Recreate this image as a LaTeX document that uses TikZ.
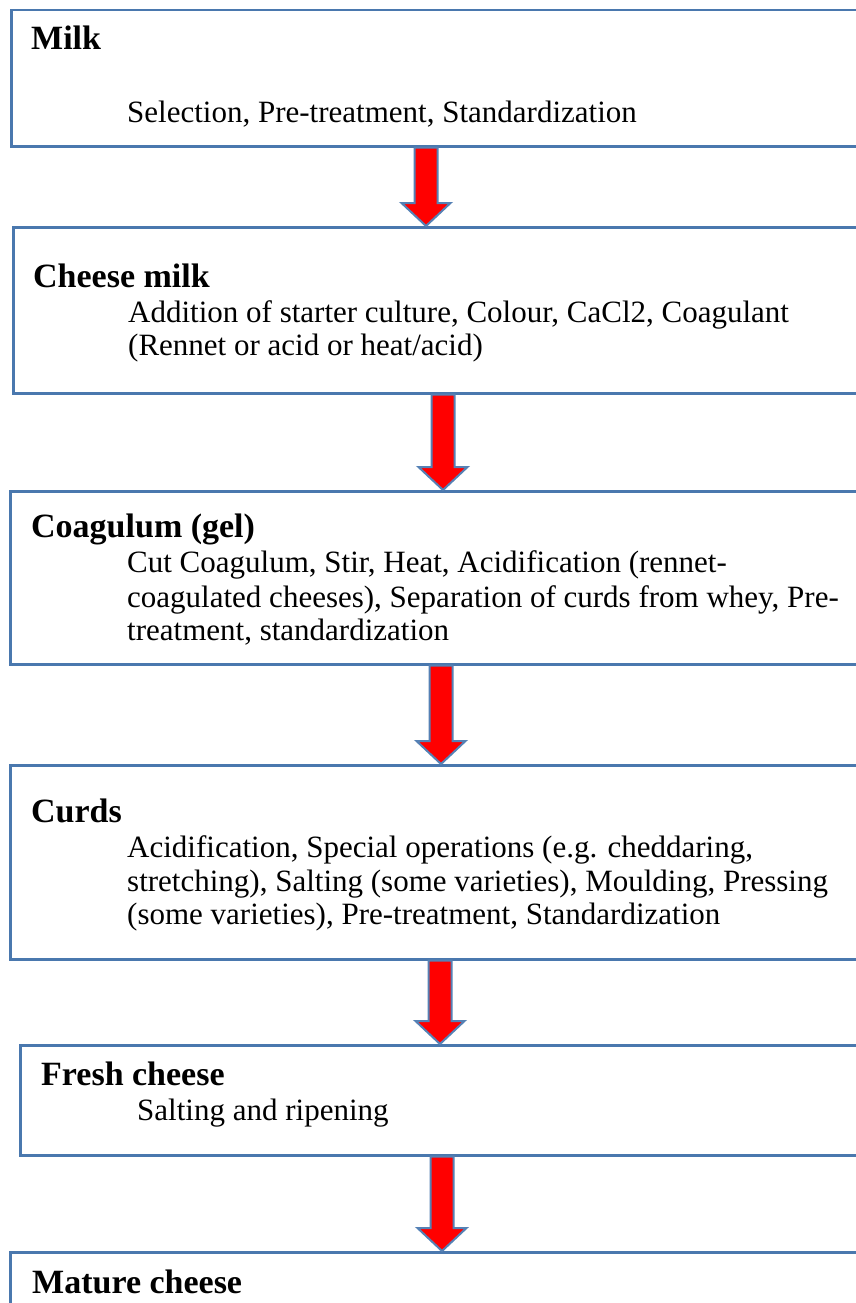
\documentclass[tikz,border=0pt]{standalone}
\usepackage{fontspec}
\setmainfont{Liberation Serif}
\usetikzlibrary{calc}
\definecolor{boxblue}{HTML}{4A78AE}
\definecolor{arrblue}{HTML}{5581B5}
\definecolor{arrred}{HTML}{FF0000}
\tikzset{
  stagebox/.style={draw=boxblue, line width=2.5pt, rectangle, anchor=north west, inner sep=0pt, fill=white},
  titletext/.style={anchor=base west, inner sep=0pt, font=\fontsize{34}{38}\selectfont\bfseries},
  bodytext/.style={anchor=base west, inner sep=0pt, font=\fontsize{31}{34}\selectfont},
  blockarrow/.style={draw=arrblue, fill=arrred, line width=2pt, line join=miter,
    to path={let \p1=(\tikztostart), \p2=(\tikztotarget) in
      (#1pt-11.5pt,\y1) -- (#1pt-11.5pt,\y2+23pt) -- (#1pt-24.5pt,\y2+23pt) -- (#1pt,\y2)
      -- (#1pt+24.5pt,\y2+23pt) -- (#1pt+11.5pt,\y2+23pt) -- (#1pt+11.5pt,\y1) -- cycle}}
}
\begin{document}
\begin{tikzpicture}[x=1pt,y=-1pt]
\useasboundingbox (0,0) rectangle (856,1303);
\fill[white] (0,0) rectangle (856,1303);
% boxes
\node[stagebox, minimum width=900pt, minimum height=136pt] (b1) at (10,9) {};
\node[stagebox, minimum width=900pt, minimum height=166pt] (b2) at (12,226) {};
\node[stagebox, minimum width=900pt, minimum height=173pt] (b3) at (9,490) {};
\node[stagebox, minimum width=900pt, minimum height=194pt] (b4) at (9,764) {};
\node[stagebox, minimum width=900pt, minimum height=110pt] (b5) at (19,1044) {};
\node[stagebox, minimum width=900pt, minimum height=100pt] (b6) at (9,1251) {};
% arrows
\draw[blockarrow=426] (b1.south) to (b2.north);
\draw[blockarrow=443] (b2.south) to (b3.north);
\draw[blockarrow=441] (b3.south) to (b4.north);
\draw[blockarrow=440] (b4.south) to (b5.north);
\draw[blockarrow=442] (b5.south) to (b6.north);
% texts
\node[titletext] (t1) at (31,50) {Milk};
\node[bodytext] (d1a) at (127,123) {Selection, Pre-treatment, Standardization};
\node[titletext] (t2) at (33,287) {Cheese milk};
\node[bodytext] (d2a) at (128,322) {Addition of starter culture, Colour, CaCl2, Coagulant};
\node[bodytext] (d2b) at (128,355) {(Rennet or acid or heat/acid)};
\node[titletext] (t3) at (31,537) {Coagulum (gel)};
\node[bodytext] (d3a) at (127,572) {Cut Coagulum, Stir, Heat, Acidification (rennet-};
\node[bodytext] (d3b) at (127,607) {coagulated cheeses), Separation of curds from whey, Pre-};
\node[bodytext] (d3c) at (127,640) {treatment, standardization};
\node[titletext] (t4) at (31,822) {Curds};
\node[bodytext] (d4a) at (127,857) {Acidification, Special operations (e.g. cheddaring,};
\node[bodytext] (d4b) at (127,891) {stretching), Salting (some varieties), Moulding, Pressing};
\node[bodytext] (d4c) at (127,924) {(some varieties), Pre-treatment, Standardization};
\node[titletext] (t5) at (41,1085) {Fresh cheese};
\node[bodytext] (d5a) at (137,1120) {Salting and ripening};
\node[titletext] (t6) at (32,1293) {Mature cheese};
\end{tikzpicture}
\end{document}
